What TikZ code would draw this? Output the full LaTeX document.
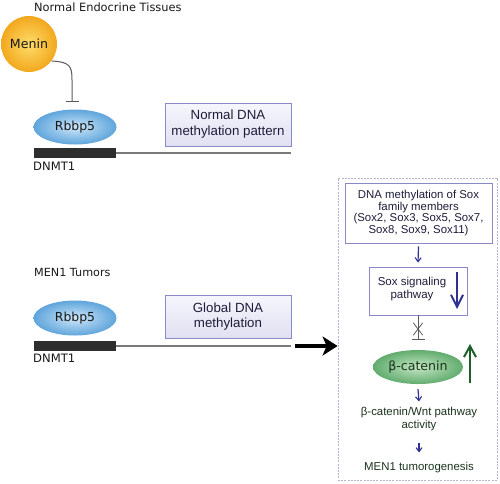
\documentclass[tikz,border=0pt]{standalone}
\usepackage{fontspec}
\setmainfont{Liberation Sans}
\newfontfamily\dv{DejaVu Sans}
\usetikzlibrary{arrows.meta,shapes.geometric}
\definecolor{navy}{HTML}{2E3192}
\definecolor{boxline}{HTML}{8A8AC8}
\definecolor{boxtext}{HTML}{1E1E3C}
\definecolor{dgreen}{HTML}{1E5E28}
\definecolor{gtext}{HTML}{1A331C}
\definecolor{geneline}{HTML}{7A7A7A}
\definecolor{panelline}{HTML}{B4B4D2}
\begin{document}
\begin{tikzpicture}[x=1pt,y=-1pt,
  title/.style={anchor=west,inner sep=0pt,font=\dv\fontsize{11.4}{13}\selectfont,text=black!90},
  genelabel/.style={anchor=west,inner sep=0pt,font=\dv\fontsize{11.6}{13}\selectfont,text=black!90},
  rbbp/.style={ellipse,minimum width=83pt,minimum height=35pt,inner sep=0pt,
    inner color={rgb,255:red,205;green,230;blue,248},outer color={rgb,255:red,95;green,165;blue,220},
    font=\dv\fontsize{12.4}{14}\selectfont,text=black!90},
  genebar/.style={fill=black!82,draw=none},
  gline/.style={draw=geneline,line width=2pt},
  mbox/.style={draw=boxline,line width=0.9pt,top color={rgb,255:red,246;green,246;blue,252},
    bottom color={rgb,255:red,224;green,224;blue,242},inner sep=0pt,align=center,
    text=boxtext,font=\fontsize{13.3}{16}\selectfont},
  sbox/.style={draw=boxline,line width=0.9pt,fill=white,inner sep=0pt,align=center,
    text=boxtext},
  smallarrow/.style={draw=navy,line width=1.2pt,-{Straight Barb[length=4pt,width=6pt,line width=1.1pt]}},
  bigarrow/.style={draw=black,line width=4pt,-{Stealth[length=15pt,width=19pt,inset=4pt]}},
  inhib/.style={draw=black!65,line width=1pt,-{Bar[width=13pt,line width=1pt]}},
  ]
\useasboundingbox (0,0) rectangle (500,483);

% ---------- Normal endocrine tissues ----------
\node[title] (t1) at (34,7) {Normal Endocrine Tissues};
\node[circle,minimum size=56pt,inner sep=0pt,
  inner color={rgb,255:red,254;green,220;blue,105},outer color={rgb,255:red,242;green,168;blue,30},
  font=\dv\fontsize{12.6}{14}\selectfont,text=black!90] (menin) at (29,44) {Menin};
\node[rbbp] (rb1) at (75,127) {Rbbp5};
\coordinate (tend) at (72,102);
\draw[inhib] (menin.-37) .. controls (70,62) and (72,66) .. (72,80) -- (tend);
\node[genebar,minimum width=82pt,minimum height=10pt,inner sep=0pt] (bar1) at (75,153) {};
\coordinate (g1end) at (291,153);
\draw[gline] (bar1.east) -- (g1end);
\node[genelabel] (d1) at (33,166) {DNMT1};
\node[mbox,minimum width=126pt,minimum height=43pt] (nbox) at (228,124.5) {Normal DNA\\methylation pattern};

% ---------- MEN1 tumors ----------
\node[title,font=\dv\fontsize{11.2}{13}\selectfont] (t2) at (34,272) {MEN1 Tumors};
\node[rbbp] (rb2) at (75,318) {Rbbp5};
\node[genebar,minimum width=82pt,minimum height=10pt,inner sep=0pt] (bar2) at (75,346) {};
\coordinate (g2end) at (291,346);
\draw[gline] (bar2.east) -- (g2end);
\node[genelabel] (d2) at (33,358) {DNMT1};
\node[mbox,minimum width=126pt,minimum height=43pt,font=\fontsize{13.3}{15}\selectfont] (gbox) at (228,316.5) {Global DNA\\methylation};

% ---------- dashed panel ----------
\node[draw=panelline,dash pattern=on 2pt off 1.2pt,line width=0.8pt,
  minimum width=159pt,minimum height=302pt,inner sep=0pt] (panel) at (417.5,329) {};
\coordinate (bstart) at (295,346);
\draw[bigarrow] (bstart) -- (bstart -| panel.west);

\node[sbox,minimum width=147pt,minimum height=60pt,font=\fontsize{11.4}{11.4}\selectfont] (sox) at (418.5,213)
  {DNA methylation of Sox\\family members\\(Sox2, Sox3, Sox5, Sox7,\\Sox8, Sox9, Sox11)};
\node[sbox,minimum width=98pt,minimum height=48pt] (sig) at (418,291) {};
\node[align=center,inner sep=0pt,text=boxtext,font=\fontsize{11.5}{13}\selectfont] (sigt) at (412,289) {Sox signaling\\pathway};
\coordinate (sdtop) at (457,272);
\coordinate (sdbot) at (457,309);
\draw[draw=navy,line width=2pt,-{Straight Barb[length=12pt,width=12pt,line width=2pt]}] (sdtop) -- (sdbot);
\draw[smallarrow] ([yshift=-3pt]sox.south) -- ([yshift=4pt]sig.north);

\node[ellipse,minimum width=90pt,minimum height=34pt,inner sep=0pt,
  inner color={rgb,255:red,196;green,230;blue,196},outer color={rgb,255:red,98;green,172;blue,110},
  font=\dv\fontsize{12.6}{14}\selectfont,text=gtext] (bcat) at (418,367) {β-catenin};
\coordinate (tbar) at (418,340);
\draw[inhib] (sig.south) -- (tbar);
\node[inner sep=0pt,minimum width=9pt,minimum height=12pt] (xm) at (418,329) {};
\draw[black!65,line width=0.8pt] (xm.north west) -- (xm.south east) (xm.north east) -- (xm.south west);
\coordinate (gbot) at (470,383);
\coordinate (gtop) at (470,344);
\draw[draw=dgreen,line width=2pt,-{Straight Barb[length=11pt,width=12pt,line width=2pt]}] (gbot) -- (gtop);

\node[align=center,inner sep=0pt,text=gtext,font=\fontsize{11.4}{13}\selectfont] (wnt) at (419,419.5) {β-catenin/Wnt pathway\\activity};
\draw[smallarrow] ([yshift=-5pt]bcat.south) -- ([yshift=6pt]wnt.north);
\node[inner sep=0pt,text=gtext,font=\fontsize{11.4}{13}\selectfont] (men) at (419,468) {MEN1 tumorogenesis};
\draw[smallarrow] ([yshift=-11pt]wnt.south) -- ([yshift=10pt]men.north);
\end{tikzpicture}
\end{document}
